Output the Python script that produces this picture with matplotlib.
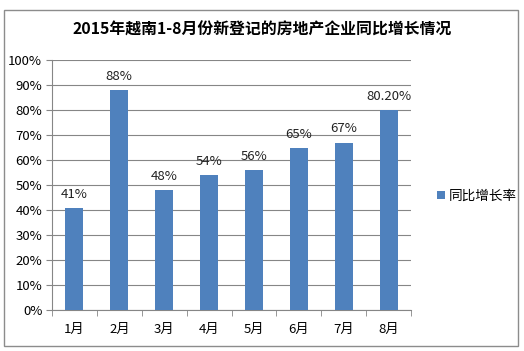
import matplotlib.pyplot as plt
from matplotlib.patches import Rectangle
import numpy as np

plt.rcParams['font.family'] = ['Noto Sans CJK SC', 'DejaVu Sans']

months = ['1月', '2月', '3月', '4月', '5月', '6月', '7月', '8月']
growth = [41, 88, 48, 54, 56, 65, 67, 80.2]
labels = ['41%', '88%', '48%', '54%', '56%', '65%', '67%', '80.20%']
bar_color = '#4F81BD'

fig = plt.figure(figsize=(5.24, 3.51), dpi=100)
fig.patches.append(Rectangle((4/524, 1 - 346/351), 514/524, 336/351,
                             transform=fig.transFigure, fill=False,
                             edgecolor='#8c8c8c', linewidth=1))

ax = fig.add_axes([52/524, 1 - 310/351, 359/524, 250/351])
x = np.arange(len(months))
bars = ax.bar(x, growth, width=0.4, color=bar_color, label='同比增长率', zorder=3)

for bar, lab in zip(bars, labels):
    ax.text(bar.get_x() + bar.get_width() / 2, bar.get_height() + 2.8, lab,
            ha='center', va='bottom', fontsize=9.5, color='#222222')

ax.set_xlim(-0.5, len(months) - 0.5)
ax.set_ylim(0, 100)
ax.set_yticks(range(0, 101, 10))
ax.set_yticklabels([f'{v}%' for v in range(0, 101, 10)], fontsize=9.5)
ax.set_xticks(x)
ax.set_xticklabels(months, fontsize=9.5)
ax.set_xticks(np.arange(-0.5, len(months)), minor=True)
ax.tick_params(axis='x', which='major', length=0, pad=9)
ax.tick_params(axis='x', which='minor', length=4, color='#868686', direction='out')
ax.tick_params(axis='y', length=4, color='#868686', direction='out', pad=3)
ax.grid(axis='y', color='#868686', linewidth=0.8, zorder=0)
for s in ['top', 'right']:
    ax.spines[s].set_visible(False)
for s in ['left', 'bottom']:
    ax.spines[s].set_color('#868686')

fig.text(262/524, 1 - 30/351, '2015年越南1-8月份新登记的房地产企业同比增长情况',
         ha='center', va='center', fontsize=11.4, fontweight='bold')

fig.legend(loc='center left', bbox_to_anchor=(425/524, 1 - 196/351), frameon=False,
           fontsize=9.8, handlelength=0.55, handleheight=0.55, handletextpad=0.3)

fig.savefig('out.png', dpi=100)
